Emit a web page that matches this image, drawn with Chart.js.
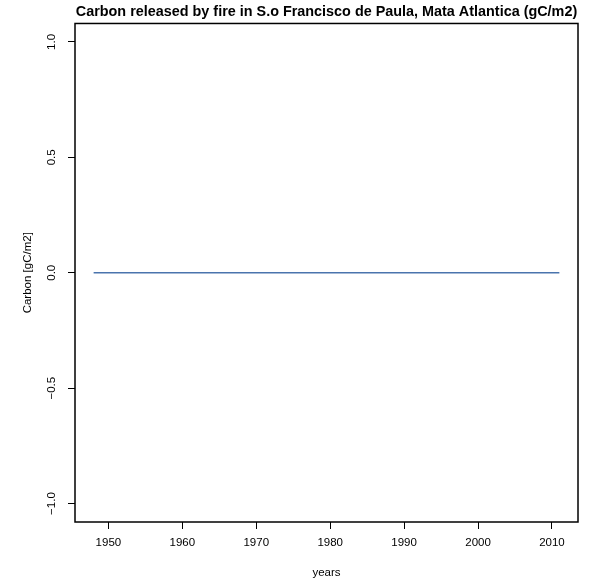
<!DOCTYPE html>
<html>
<head>
<meta charset="utf-8">
<title>Carbon released by fire</title>
<script src="https://cdn.jsdelivr.net/npm/chart.js@4.4.1/dist/chart.umd.min.js"></script>
<style>
  html, body { margin: 0; padding: 0; background: #ffffff; }
  #wrap { width: 598px; height: 584px; }
</style>
</head>
<body>
<div id="wrap"><canvas id="chart" width="598" height="584"></canvas></div>
<script>
// Annual carbon released by fire (gC/m2), 1948-2011
const years = [
  1948, 1949, 1950, 1951, 1952, 1953, 1954, 1955, 1956, 1957,
  1958, 1959, 1960, 1961, 1962, 1963, 1964, 1965, 1966, 1967,
  1968, 1969, 1970, 1971, 1972, 1973, 1974, 1975, 1976, 1977,
  1978, 1979, 1980, 1981, 1982, 1983, 1984, 1985, 1986, 1987,
  1988, 1989, 1990, 1991, 1992, 1993, 1994, 1995, 1996, 1997,
  1998, 1999, 2000, 2001, 2002, 2003, 2004, 2005, 2006, 2007,
  2008, 2009, 2010, 2011
];
const carbon = [
  0, 0, 0, 0, 0, 0, 0, 0, 0, 0,
  0, 0, 0, 0, 0, 0, 0, 0, 0, 0,
  0, 0, 0, 0, 0, 0, 0, 0, 0, 0,
  0, 0, 0, 0, 0, 0, 0, 0, 0, 0,
  0, 0, 0, 0, 0, 0, 0, 0, 0, 0,
  0, 0, 0, 0, 0, 0, 0, 0, 0, 0,
  0, 0, 0, 0
];
const xTickValues = [1950, 1960, 1970, 1980, 1990, 2000, 2010];
const yTickValues = [-1.0, -0.5, 0.0, 0.5, 1.0];

const FONT = '"Liberation Sans", Arial, Helvetica, sans-serif';

// Axis limits padded by 4% of the data range on each side
const xMin = 1945.48, xMax = 2013.52;
const yMin = -1.08, yMax = 1.08;

// Closed frame around the plotting region
const frame = {
  id: 'frame',
  afterDatasetsDraw(chart) {
    const { ctx, chartArea: a } = chart;
    ctx.save();
    ctx.strokeStyle = '#000';
    ctx.lineWidth = 1.5;
    ctx.strokeRect(a.left, a.top, a.right - a.left, a.bottom - a.top);
    ctx.restore();
  }
};

new Chart(document.getElementById('chart'), {
  type: 'line',
  data: {
    datasets: [{
      data: years.map((y, i) => ({ x: y, y: carbon[i] })),
      borderColor: '#4a74ad',
      borderWidth: 1.5,
      pointRadius: 0,
      fill: false,
      tension: 0
    }]
  },
  options: {
    responsive: false,
    animation: false,
    devicePixelRatio: 1,
    layout: { padding: { left: 0, right: 20, top: 0, bottom: 0 } },
    plugins: {
      legend: { display: false },
      tooltip: { enabled: false },
      title: {
        display: true,
        fullSize: false,
        text: 'Carbon released by fire in S.o Francisco de Paula, Mata Atlantica (gC/m2)',
        color: '#000',
        font: { family: FONT, size: 14.4, weight: 'bold', lineHeight: 1.2 },
        padding: { top: 3, bottom: 3.2 }
      }
    },
    scales: {
      x: {
        type: 'linear',
        min: xMin,
        max: xMax,
        afterBuildTicks(scale) { scale.ticks = xTickValues.map(v => ({ value: v })); },
        afterFit(scale) { scale.height = 62; },
        border: { display: false },
        grid: {
          display: true, drawOnChartArea: false, drawTicks: true,
          tickLength: 7, tickColor: '#000', tickWidth: 1
        },
        ticks: {
          color: '#000', padding: 7, maxRotation: 0, minRotation: 0,
          font: { family: FONT, size: 11.5 },
          callback: v => String(v)
        },
        title: {
          display: true, text: 'years', color: '#000',
          font: { family: FONT, size: 11.5 },
          padding: { top: 0, bottom: 4 }
        }
      },
      y: {
        type: 'linear',
        min: yMin,
        max: yMax,
        afterBuildTicks(scale) { scale.ticks = yTickValues.map(v => ({ value: v })); },
        afterFit(scale) { scale.width = 75; },
        border: { display: false },
        grid: {
          display: true, drawOnChartArea: false, drawTicks: true,
          tickLength: 7, tickColor: '#000', tickWidth: 1
        },
        ticks: {
          color: '#000', padding: 5, minRotation: 90, maxRotation: 90,
          crossAlign: 'center',
          font: { family: FONT, size: 11.5 },
          callback: v => v.toFixed(1).replace('-', '\u2212')
        },
        title: {
          display: true, text: 'Carbon [gC/m2]', color: '#000',
          font: { family: FONT, size: 11.5 },
          padding: { top: 21, bottom: 0 }
        }
      }
    }
  },
  plugins: [frame]
});
</script>
</body>
</html>
